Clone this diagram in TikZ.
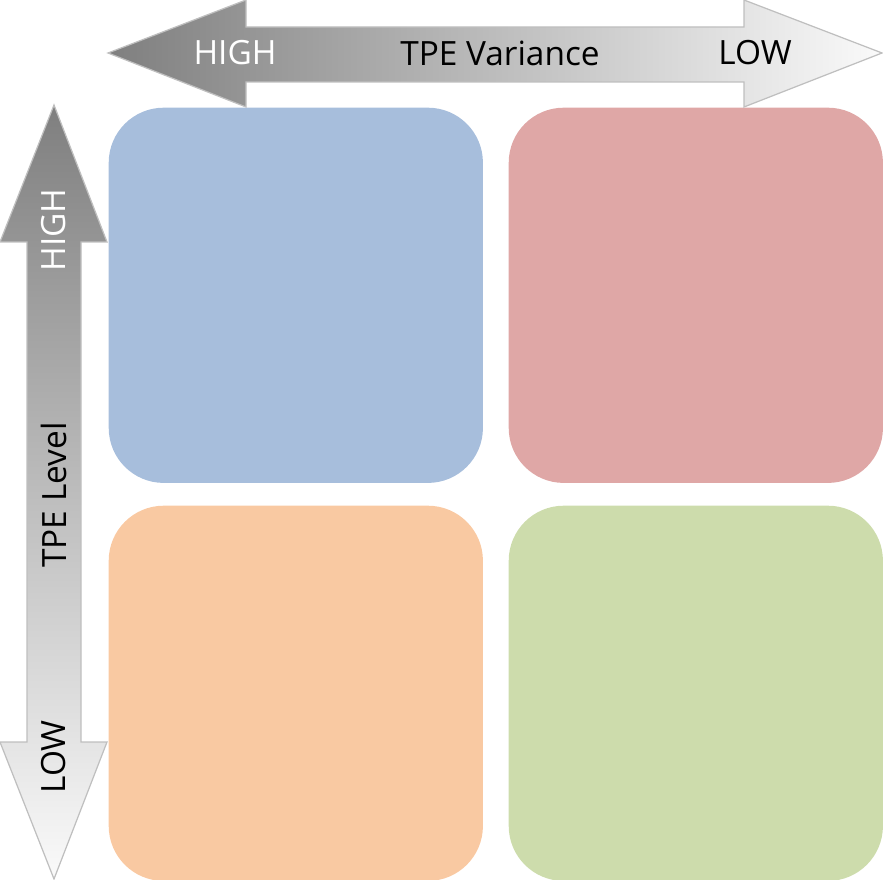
\documentclass[tikz,border=0pt]{standalone}
\usepackage{fontspec}
\setmainfont{Open Sans}
\usetikzlibrary{positioning}

\definecolor{QuadBlue}{HTML}{A7BEDC}
\definecolor{QuadRed}{HTML}{DFA7A6}
\definecolor{QuadOrange}{HTML}{F9C9A2}
\definecolor{QuadGreen}{HTML}{CDDCAC}
\definecolor{ArrowDark}{HTML}{7F7F7F}
\definecolor{ArrowLight}{HTML}{FAFAFA}
\definecolor{ArrowEdge}{HTML}{BFBFBF}

\begin{document}
\begin{tikzpicture}[
		x=0.01cm, y=-0.01cm,
		QuadCfg/.style={
			rectangle, rounded corners=0.55cm, inner sep=0pt,
			minimum width=3.74cm, minimum height=3.75cm,
			anchor=north west
		},
		ArrowCfg/.style={draw=ArrowEdge, line width=0.35pt},
		LabelCfg/.style={font=\fontsize{9.5}{11}\selectfont}
		]
		
		\useasboundingbox (0,0) rectangle (883,880);
		
		% the four quadrants
		\path 
		(108,107) node [QuadCfg, fill=QuadBlue] (QuadHH) {}
		++ (400,0) node [QuadCfg, fill=QuadRed] (QuadLH) {}
		++ (0,398) node [QuadCfg, fill=QuadGreen] (QuadLL) {}
		++ (-400,0) node [QuadCfg, fill=QuadOrange] (QuadHL) {};
		
		% variance arrow
		\path [ArrowCfg, left color=ArrowDark, right color=ArrowLight]
		(108,53) -- (246,0) -- (246,27) -- (744,27) -- (744,0) -- (882,53)
		-- (744,107) -- (744,82) -- (246,82) -- (246,107) -- cycle;
		
		% level arrow
		\path [ArrowCfg, top color=ArrowDark, bottom color=ArrowLight]
		(54,105) -- (107,242) -- (81,242) -- (81,742) -- (107,742) -- (54,879)
		-- (0,742) -- (27,742) -- (27,242) -- (0,242) -- cycle;
		
		\path
		(235,53) node [LabelCfg, text=white] (VarHigh) {HIGH}
		(500,53) node [LabelCfg] (VarName) {TPE Variance}
		(755,53) node [LabelCfg] (VarLow) {LOW}
		(54,230) node [LabelCfg, text=white, rotate=90] (LvlHigh) {HIGH}
		(54,495) node [LabelCfg, rotate=90] (LvlName) {TPE Level}
		(54,757) node [LabelCfg, rotate=90] (LvlLow) {LOW};
		
		\end{tikzpicture}
\end{document}
